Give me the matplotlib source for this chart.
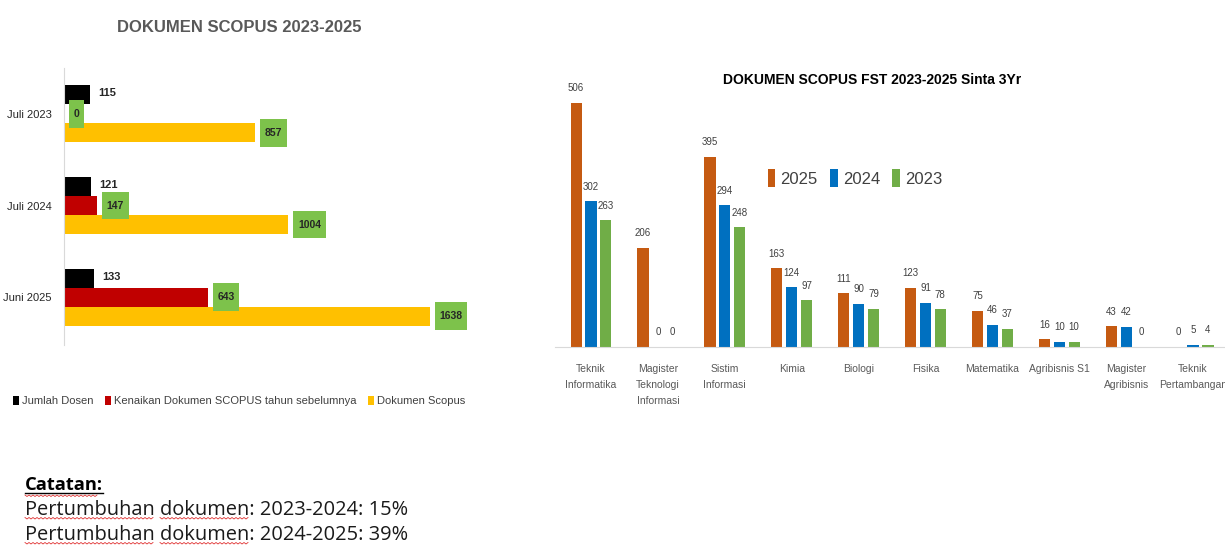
import numpy as np
import matplotlib
matplotlib.use("Agg")
import matplotlib.pyplot as plt
from matplotlib import font_manager as fm
from matplotlib.path import Path

# ---------------- data ----------------
left_title = "DOKUMEN SCOPUS 2023-2025"
left_categories = ["Juli 2023", "Juli 2024", "Juni 2025"]
jumlah_dosen = [115, 121, 133]
kenaikan = [0, 147, 643]
dokumen_scopus = [857, 1004, 1638]
left_series_names = ["Jumlah Dosen", "Kenaikan Dokumen SCOPUS tahun sebelumnya", "Dokumen Scopus"]

right_title = "DOKUMEN SCOPUS FST 2023-2025 Sinta 3Yr"
programs = ["Teknik\nInformatika", "Magister\nTeknologi\nInformasi", "Sistim\nInformasi", "Kimia",
            "Biologi", "Fisika", "Matematika", "Agribisnis S1", "Magister\nAgribisnis",
            "Teknik\nPertambangan"]
docs_2025 = [506, 206, 395, 163, 111, 123, 75, 16, 43, 0]
docs_2024 = [302, 0, 294, 124, 90, 91, 46, 10, 42, 5]
docs_2023 = [263, 0, 248, 97, 79, 78, 37, 10, 0, 4]
year_names = ["2025", "2024", "2023"]

note_title = "Catatan:"
note_lines = ["Pertumbuhan dokumen: 2023-2024: 15%",
              "Pertumbuhan dokumen: 2024-2025: 39%"]

# ---------------- style ----------------
names = {f.name for f in fm.fontManager.ttflist}
def pick(*cands):
    for c in cands:
        if c in names:
            return c
    return "DejaVu Sans"

NARROW = pick("Liberation Sans Narrow", "Liberation Sans")
BODY = pick("Open Sans", "Noto Sans", "DejaVu Sans")
plt.rcParams["font.family"] = [NARROW, "DejaVu Sans"]

C_BLACK = "#000000"
C_RED = "#C00000"
C_YELLOW = "#FFC000"
C_GREENBOX = "#7DC24B"
C_OR = "#C55A11"
C_BL = "#0070C0"
C_GR = "#70AD47"

W, H = 1225, 547
fig = plt.figure(figsize=(W / 100, H / 100), dpi=100)

def fx(px):
    return px / W

def fy(py):
    return 1 - py / H

def greenbox(x0, y0, width, height, mutation_size):
    padx = 0.45 * mutation_size
    pady = 0.85 * mutation_size
    xa, xb = x0 - padx, x0 + width + padx
    ya, yb = y0 - pady, y0 + height + pady
    return Path([(xa, ya), (xb, ya), (xb, yb), (xa, yb), (xa, ya)], closed=True)

# ---------------- left chart ----------------
axL = fig.add_axes([fx(64), fy(345), fx(402), (345 - 68) / H])
y = np.arange(len(left_categories))
bh = 0.207
b1 = axL.barh(y - bh, jumlah_dosen, height=bh, color=C_BLACK)
b2 = axL.barh(y, kenaikan, height=bh, color=C_RED)
b3 = axL.barh(y + bh, dokumen_scopus, height=bh, color=C_YELLOW)
axL.set_xlim(0, 1800)
axL.set_ylim(2.52, -0.5)
axL.set_yticks(y)
axL.set_yticklabels(left_categories, fontsize=8, color="#262626")
axL.tick_params(axis="y", length=0, pad=9)
axL.set_xticks([])
for s in ["top", "right", "bottom"]:
    axL.spines[s].set_visible(False)
axL.spines["left"].set_color("#D9D9D9")

for yi, v in zip(y - bh, jumlah_dosen):
    axL.annotate(str(v), (v, yi), xytext=(6, 1), textcoords="offset points",
                 ha="left", va="center", fontsize=8, fontweight="bold", color="#262626")
box = dict(boxstyle=greenbox, fc=C_GREENBOX, ec="none")
for yi, v in zip(y, kenaikan):
    axL.annotate(str(v), (v, yi), xytext=(7, 0), textcoords="offset points",
                 ha="left", va="center", fontsize=7.5, fontweight="bold", color="#262626", bbox=box)
for yi, v in zip(y + bh, dokumen_scopus):
    axL.annotate(str(v), (v, yi), xytext=(7, 0), textcoords="offset points",
                 ha="left", va="center", fontsize=7.5, fontweight="bold", color="#262626", bbox=box)

fig.text(fx(239), fy(27), left_title, ha="center", va="center", fontsize=12,
         fontweight="bold", color="#595959")

fig.legend([b1, b2, b3], left_series_names, loc="center", bbox_to_anchor=(fx(239), fy(401)),
           ncol=3, frameon=False, fontsize=8, handlelength=0.6, handleheight=0.9,
           handletextpad=0.25, columnspacing=1.0, labelcolor="#404040")

# ---------------- right chart ----------------
axR = fig.add_axes([fx(555), fy(347), fx(670), 550 * 0.482 / H])
x = np.arange(len(programs))
pitch = 0.222
bw = 0.168
r1 = axR.bar(x - pitch, docs_2025, width=bw, color=C_OR)
r2 = axR.bar(x, docs_2024, width=bw, color=C_BL)
r3 = axR.bar(x + pitch, docs_2023, width=bw, color=C_GR)
for bars in (r1, r2, r3):
    axR.bar_label(bars, padding=7, fontsize=7, color="#404040")
axR.set_xlim(-0.538, 9.477)
axR.set_ylim(0, 550)
axR.set_yticks([])
axR.set_xticks(x)
axR.set_xticklabels(programs, fontsize=7.5, color="#595959", linespacing=1.75)
axR.tick_params(axis="x", length=0, pad=12)
for s in ["top", "right", "left"]:
    axR.spines[s].set_visible(False)
axR.spines["bottom"].set_color("#D9D9D9")

fig.text(fx(872), fy(80), right_title, ha="center", va="center", fontsize=10,
         fontweight="bold", color="#000000")

axR.legend([r1, r2, r3], year_names, loc="center", bbox_to_anchor=(fx(855), fy(178)),
           bbox_transform=fig.transFigure, ncol=3, frameon=False, fontsize=12,
           handlelength=0.45, handleheight=1.2, handletextpad=0.3, columnspacing=0.75,
           labelcolor="#404040")

# ---------------- notes ----------------
note_fs = 14.4
t0 = fig.text(fx(25), fy(490), note_title, ha="left", va="baseline", fontsize=13.2,
              fontweight="bold", family=[BODY, "DejaVu Sans"], color="#000000")
line_ts = []
for i, ln in enumerate(note_lines):
    line_ts.append(fig.text(fx(25), fy(515 + 25 * i), ln, ha="left", va="baseline",
                            fontsize=note_fs, family=[BODY, "DejaVu Sans"], color="#1a1a1a"))

fig.canvas.draw()
renderer = fig.canvas.get_renderer()

def width_of(s, t):
    w, h, d = renderer.get_text_width_height_descent(s, t.get_fontproperties(), ismath=False)
    return w

def wavy(x0, x1, ybase):
    xs = np.arange(x0, x1 + 0.1, 2.0)
    ys = ybase + np.where(np.arange(len(xs)) % 2 == 0, 0.0, 1.5)
    fig.add_artist(plt.Line2D(xs / W, 1 - ys / H, transform=fig.transFigure,
                              color="#E03030", lw=0.6))

wt = width_of("Catatan:", t0)
fig.add_artist(plt.Line2D([fx(25), fx(25 + wt)], [fy(492.5), fy(492.5)],
                          transform=fig.transFigure, color="black", lw=1.0))
wavy(25, 25 + width_of("Catatan", t0), 495)
for i, t in enumerate(line_ts):
    yb = 517.5 + 25 * i
    w1 = width_of("Pertumbuhan", t)
    wavy(25, 25 + w1, yb)
    ws = width_of("Pertumbuhan ", t)
    w2 = width_of("Pertumbuhan dokumen", t)
    wavy(25 + ws, 25 + w2, yb)

fig.savefig("out.png", dpi=100)
